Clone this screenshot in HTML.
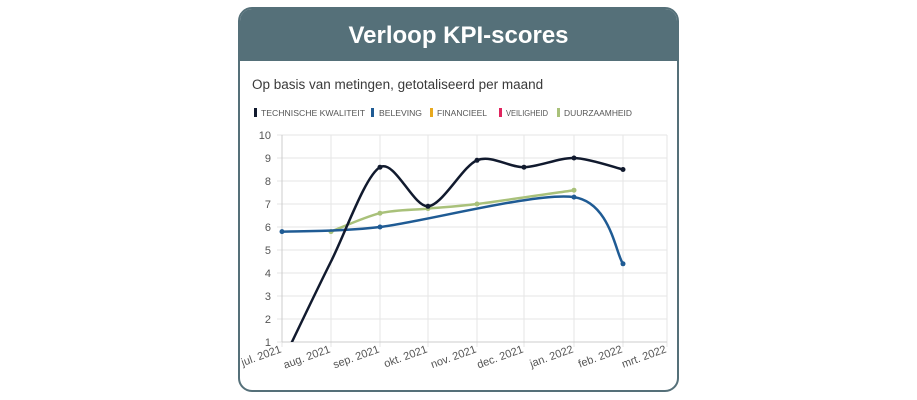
<!DOCTYPE html>
<html><head><meta charset="utf-8"><style>
body{margin:0;width:917px;height:400px;background:#fff;font-family:"Liberation Sans",sans-serif;overflow:hidden}
.card{position:absolute;left:238px;top:7px;width:441px;height:385px;border:2px solid #557079;border-radius:14px;box-sizing:border-box;overflow:hidden;background:#fff}
.hdr{height:52px;background:#557079;color:#fff;font-weight:bold;font-size:24px;text-align:center;line-height:54px}
.sub{position:absolute;left:12px;top:68px;font-size:13.5px;color:#3a3a3a}
</style></head><body>
<div class="card"><div class="hdr">Verloop KPI-scores</div><div class="sub">Op basis van metingen, getotaliseerd per maand</div></div>
<svg id="s" width="917" height="400" style="position:absolute;left:0;top:0" font-family="Liberation Sans, sans-serif">
<g font-size="8.5" fill="#555">
<rect x="254" y="108" width="3" height="9" fill="#111a2e"/><text x="261" y="116" textLength="104" lengthAdjust="spacingAndGlyphs">TECHNISCHE KWALITEIT</text>
<rect x="371" y="108" width="3" height="9" fill="#1f5b94"/><text x="379" y="116" textLength="43" lengthAdjust="spacingAndGlyphs">BELEVING</text>
<rect x="430" y="108" width="3" height="9" fill="#e8a91e"/><text x="437" y="116" textLength="50" lengthAdjust="spacingAndGlyphs">FINANCIEEL</text>
<rect x="499" y="108" width="3" height="9" fill="#e0245e"/><text x="506" y="116" textLength="42" lengthAdjust="spacingAndGlyphs">VEILIGHEID</text>
<rect x="557" y="108" width="3" height="9" fill="#a9c17a"/><text x="564" y="116" textLength="68" lengthAdjust="spacingAndGlyphs">DUURZAAMHEID</text>
</g>
<g id="grid"></g><g id="lines"></g>
</svg>
<script>
const X=[282,331,380,428,477,524,574,623,667],Y=v=>342-(v-1)*23;
const ns="http://www.w3.org/2000/svg",g=document.getElementById('grid'),L=document.getElementById('lines');
function el(p,t,a,txt){const e=document.createElementNS(ns,t);for(const k in a)e.setAttribute(k,a[k]);if(txt!==undefined)e.textContent=txt;p.appendChild(e);return e}
for(let v=1;v<=10;v++){el(g,'line',{x1:277,x2:667,y1:Y(v),y2:Y(v),stroke:'#e6e6e6'});el(g,'text',{x:271,y:Y(v)+4,'font-size':11,fill:'#555','text-anchor':'end'},v)}
const lab=['jul. 2021','aug. 2021','sep. 2021','okt. 2021','nov. 2021','dec. 2021','jan. 2022','feb. 2022','mrt. 2022'];
X.forEach((x,i)=>{el(g,'line',{x1:x,x2:x,y1:135,y2:347,stroke:'#e6e6e6'});el(g,'text',{x:x,y:352,'font-size':11,fill:'#555','text-anchor':'end',transform:`rotate(-20 ${x} 352)`},lab[i])});
el(g,'line',{x1:282,x2:282,y1:135,y2:342,stroke:'#ccc'});el(g,'line',{x1:282,x2:667,y1:342,y2:342,stroke:'#ccc'});
const cp=el(L,'clipPath',{id:'c'});el(cp,'rect',{x:282,y:130,width:390,height:212});
function curve(pts,col,dots){let d=`M${pts[0][0]},${pts[0][1]}`;for(let i=0;i<pts.length-1;i++){const p0=pts[i-1]||pts[i],p1=pts[i],p2=pts[i+1],p3=pts[i+2]||p2,t=0.3;
d+=` C${p1[0]+(p2[0]-p0[0])*t/2},${p1[1]+(p2[1]-p0[1])*t/2} ${p2[0]-(p3[0]-p1[0])*t/2},${p2[1]-(p3[1]-p1[1])*t/2} ${p2[0]},${p2[1]}`}
el(L,'path',{d,fill:'none',stroke:col,'stroke-width':2.5,'clip-path':'url(#c)'});dots.forEach(i=>el(L,'circle',{cx:pts[i][0],cy:pts[i][1],r:2.5,fill:col}))}
curve([[X[1],Y(5.8)],[X[2],Y(6.6)],[X[3],Y(6.8)],[X[4],Y(7.0)],[X[6],Y(7.6)]],'#a9c17a',[0,1,2,3,4]);
curve([[X[0],Y(5.8)],[X[2],Y(6.0)],[X[6],Y(7.3)],[X[7],Y(4.4)]],'#1f5b94',[0,1,2,3]);
curve([[X[0],Y(0.1)],[X[1],Y(4.5)],[X[2],Y(8.6)],[X[3],Y(6.9)],[X[4],Y(8.9)],[X[5],Y(8.6)],[X[6],Y(9.0)],[X[7],Y(8.5)]],'#111a2e',[2,3,4,5,6,7]);
</script>
</body></html>
